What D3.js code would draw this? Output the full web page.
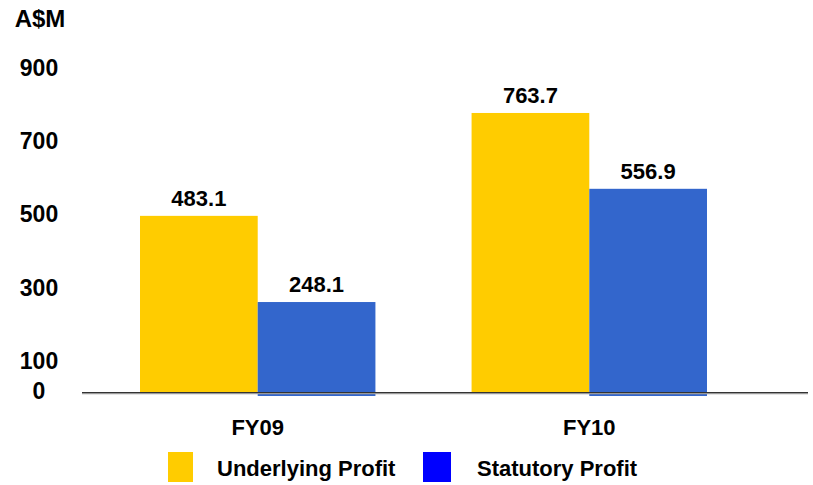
<!DOCTYPE html>
<html>

<head>
    <meta charset="utf-8">
    <style>
        body {
            margin: 0;
            background: #fff;
        }

        svg {
            font-family: 'Liberation Sans', Arial, sans-serif;
            font-weight: bold;
        }

        .y .domain,
        .x .domain {
            display: none;
        }

        .tick text {
            fill: #000;
            font-size: 23px;
            font-weight: bold;
        }

        .label {
            font-size: 22px;
            fill: #000;
        }
    </style>
</head>

<body>
    <svg width="813" height="485"></svg>
</body>

<script src="https://d3js.org/d3.v7.min.js"></script>

<script>
    // data
    let years = ["FY09", "FY10"];
    let seriesNames = ["Underlying Profit", "Statutory Profit"];
    let underlying = [483.1, 763.7];
    let statutory = [248.1, 556.9];
    let yTicks = [0, 100, 300, 500, 700, 900];

    let barColors = ["#FFCC00", "#3366CC"];
    let legendColors = ["#FFCC00", "#0000FF"];

    let svg = d3.select("svg");

    let margin = { top: 63, bottom: 393, left: 82, right: 808 };

    let rows = years.map((yr, i) => ({ year: yr, values: [underlying[i], statutory[i]] }));

    let x0 = d3.scaleBand()
        .domain(years)
        .range([140, 707])
        .paddingInner(0.29);

    let x1 = d3.scaleBand()
        .domain(seriesNames)
        .range([0, x0.bandwidth()]);

    let y = d3.scaleLinear()
        .domain([0, 900])
        .range([margin.bottom, margin.top]);

    // bars
    let groups = svg.append("g")
        .selectAll("g")
        .data(rows)
        .join("g")
        .attr("transform", d => `translate(${x0(d.year)},0)`);

    groups.selectAll("rect")
        .data(d => d.values.map((v, i) => ({ key: seriesNames[i], value: v, i: i })))
        .join("rect")
        .attr("x", d => x1(d.key))
        .attr("y", d => y(d.value))
        .attr("width", x1.bandwidth())
        .attr("height", d => y(0) - y(d.value) + (d.i === 1 ? 3 : 0)) // blue bars dip a little below axis
        .attr("fill", d => barColors[d.i]);

    // value labels
    groups.selectAll("text")
        .data(d => d.values.map((v, i) => ({ key: seriesNames[i], value: v })))
        .join("text")
        .attr("class", "label")
        .attr("x", d => x1(d.key) + x1.bandwidth() / 2)
        .attr("y", d => y(d.value) - 10)
        .attr("text-anchor", "middle")
        .text(d => d3.format(".1f")(d.value));

    // baseline
    svg.append("line")
        .attr("x1", margin.left).attr("x2", margin.right)
        .attr("y1", y(0) + 0.5).attr("y2", y(0) + 0.5)
        .attr("stroke", "#999").attr("stroke-width", 1.5);
    svg.append("line")
        .attr("x1", margin.left).attr("x2", margin.right)
        .attr("y1", y(0) - 0.5).attr("y2", y(0) - 0.5)
        .attr("stroke", "#333").attr("stroke-width", 1);

    // y axis
    let yAxis = svg.append("g")
        .attr("class", "y axis")
        .call(d3.axisLeft(y).tickValues(yTicks).tickSize(0).tickFormat(d3.format("d")));

    yAxis.selectAll(".tick text")
        .attr("x", 39)
        .attr("text-anchor", "middle")
        .attr("dy", d => d === 0 ? "0.22em" : "0.53em");

    svg.append("text")
        .attr("class", "label")
        .attr("x", 40)
        .attr("y", 27)
        .attr("text-anchor", "middle")
        .style("font-size", "24px")
        .text("A$M");

    // x axis
    let xAxis = svg.append("g")
        .attr("class", "x axis")
        .attr("transform", `translate(0,${y(0)})`)
        .call(d3.axisBottom(x0).tickSize(0));

    xAxis.selectAll(".tick text")
        .attr("dy", null)
        .attr("y", 42)
        .style("font-size", "22px");

    // legend
    let legendX = [168, 423];
    let legend = svg.append("g")
        .selectAll("g")
        .data(seriesNames)
        .join("g")
        .attr("transform", (d, i) => `translate(${legendX[i]},452)`);

    legend.append("rect")
        .attr("width", (d, i) => i === 0 ? 25 : 28)
        .attr("height", 30)
        .attr("fill", (d, i) => legendColors[i]);

    legend.append("text")
        .attr("class", "label")
        .attr("x", (d, i) => i === 0 ? 49 : 54)
        .attr("y", 24)
        .text(d => d);
</script>

</html>
